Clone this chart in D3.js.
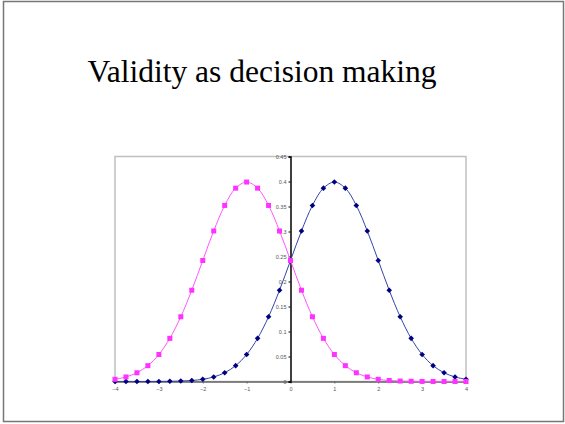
<!DOCTYPE html>
<meta charset="utf-8">

<style>
  body { margin: 0; background: #fff; }
  .title { font-family: "Liberation Serif", "Times New Roman", Times, serif; font-size: 31.5px; }
  .tick text { font-family: Arial, "Liberation Sans", sans-serif; font-size: 5.5px; fill: #555; }
</style>

<svg class="chart"></svg>

<script src="https://d3js.org/d3.v7.min.js"></script>
<script>

  var width  = 565;
  var height = 424;

  // x positions of the points
  var xValues = [-4, -3.75, -3.5, -3.25, -3, -2.75, -2.5, -2.25, -2, -1.75, -1.5, -1.25, -1, -0.75, -0.5, -0.25,
                 0, 0.25, 0.5, 0.75, 1, 1.25, 1.5, 1.75, 2, 2.25, 2.5, 2.75, 3, 3.25, 3.5, 3.75, 4];

  // magenta series (peak at -1)
  var leftValues = [0.0044, 0.0091, 0.0175, 0.0317, 0.054, 0.0863, 0.1295, 0.1826, 0.242, 0.3011, 0.3521, 0.3867,
                    0.3989, 0.3867, 0.3521, 0.3011, 0.242, 0.1826, 0.1295, 0.0863, 0.054, 0.0317, 0.0175, 0.0091,
                    0.0044, 0.002, 0.0009, 0.0004, 0.0001, 0, 0, 0, 0];

  // navy series (peak at +1)
  var rightValues = [0, 0, 0, 0, 0.0001, 0.0004, 0.0009, 0.002, 0.0044, 0.0091, 0.0175, 0.0317, 0.054, 0.0863,
                     0.1295, 0.1826, 0.242, 0.3011, 0.3521, 0.3867, 0.3989, 0.3867, 0.3521, 0.3011, 0.242, 0.1826,
                     0.1295, 0.0863, 0.054, 0.0317, 0.0175, 0.0091, 0.0044];

  var xTicks = [-4, -3, -2, -1, 0, 1, 2, 3, 4];
  var yTicks = [0, 0.05, 0.1, 0.15, 0.2, 0.25, 0.3, 0.35, 0.4, 0.45];

  var chart = d3.select(".chart")
      .attr("width", width)
      .attr("height", height);

  // slide frame
  chart.append("rect")
      .attr("x", 3.5).attr("y", 1.5)
      .attr("width", 560).attr("height", 420)
      .attr("fill", "#fff")
      .attr("stroke", "#777")
      .attr("stroke-width", 1.5);

  chart.append("text")
      .attr("class", "title")
      .attr("x", 262)
      .attr("y", 82)
      .attr("text-anchor", "middle")
      .attr("fill", "#000")
      .text("Validity as decision making");

  var x = d3.scaleLinear().domain([-4, 4]).range([115, 466]);
  var y = d3.scaleLinear().domain([0, 0.45]).range([381.5, 156.5]);

  // plot area border
  chart.append("rect")
      .attr("x", x(-4)).attr("y", y(0.45))
      .attr("width", x(4) - x(-4)).attr("height", y(0) - y(0.45))
      .attr("fill", "none")
      .attr("stroke", "#c0c0c0")
      .attr("stroke-width", 1.5);

  var xAxis = chart.append("g")
      .attr("transform", "translate(0," + y(0) + ")")
      .call(d3.axisBottom(x).tickValues(xTicks).tickSize(2).tickPadding(4).tickFormat(d3.format("d")));
  xAxis.select(".domain").attr("stroke", "#666").attr("stroke-width", 1.5);
  xAxis.selectAll(".tick line").attr("stroke", "#666");

  var yAxis = chart.append("g")
      .attr("transform", "translate(" + x(0) + ",0)")
      .call(d3.axisLeft(y).tickValues(yTicks).tickSize(2).tickPadding(2).tickFormat(function(d) { return String(+d.toFixed(2)); }));
  yAxis.select(".domain").attr("stroke", "#000").attr("stroke-width", 1.5);
  yAxis.selectAll(".tick line").attr("stroke", "#000");

  var leftPoints  = xValues.map(function(v, i) { return [v, leftValues[i]]; });
  var rightPoints = xValues.map(function(v, i) { return [v, rightValues[i]]; });

  var line = d3.line()
      .x(function(d) { return x(d[0]); })
      .y(function(d) { return y(d[1]); })
      .curve(d3.curveCatmullRom);

  chart.append("path")
      .datum(rightPoints)
      .attr("fill", "none")
      .attr("stroke", "#3344aa")
      .attr("stroke-width", 1)
      .attr("d", line);

  chart.append("path")
      .datum(leftPoints)
      .attr("fill", "none")
      .attr("stroke", "#ff55ff")
      .attr("stroke-width", 1)
      .attr("d", line);

  chart.append("g")
    .selectAll("path")
    .data(rightPoints)
    .enter().append("path")
      .attr("transform", function(d) { return "translate(" + x(d[0]) + "," + y(d[1]) + ")"; })
      .attr("d", "M0,-2.8L2.8,0L0,2.8L-2.8,0Z")
      .attr("fill", "#000080");

  chart.append("g")
    .selectAll("rect")
    .data(leftPoints)
    .enter().append("rect")
      .attr("x", function(d) { return x(d[0]) - 2.5; })
      .attr("y", function(d) { return y(d[1]) - 2.5; })
      .attr("width", 5)
      .attr("height", 5)
      .attr("fill", "#ff33ff");

</script>
